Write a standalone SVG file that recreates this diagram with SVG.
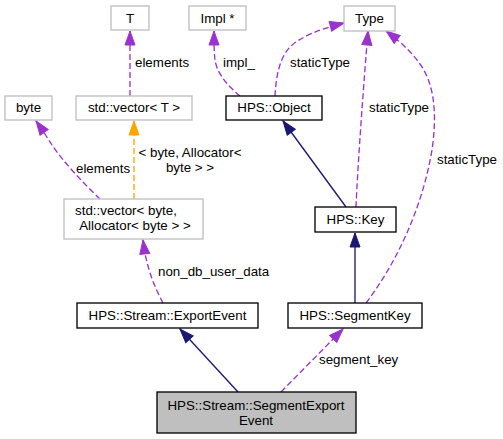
<svg xmlns="http://www.w3.org/2000/svg" width="503" height="439" viewBox="0 0 503 439">
<style>
text{font-family:"Liberation Sans",Arial,Helvetica,sans-serif;font-size:13.33px;fill:#000}
.c{text-anchor:middle}
.g{fill:#fff;stroke:#bfbfbf;stroke-width:1.33}
.b{fill:#fff;stroke:#000;stroke-width:1.33}
.m{fill:#bfbfbf;stroke:#000;stroke-width:1.33}
.p{fill:none;stroke:#9a32cd;stroke-width:1.33;stroke-dasharray:6,3;marker-end:url(#ap)}
.o{fill:none;stroke:#ffa500;stroke-width:1.33;stroke-dasharray:6,3;marker-end:url(#ao)}
.n{fill:none;stroke:#191970;stroke-width:1.33;marker-end:url(#an)}
</style>
<defs>
<marker id="ap" markerUnits="userSpaceOnUse" markerWidth="16" markerHeight="12" refX="14" refY="5" orient="auto" overflow="visible"><path d="M0,0 L14,5 L0,10 z" fill="#9a32cd" stroke="#9a32cd"/></marker>
<marker id="ao" markerUnits="userSpaceOnUse" markerWidth="16" markerHeight="12" refX="14" refY="5" orient="auto" overflow="visible"><path d="M0,0 L14,5 L0,10 z" fill="#ffa500" stroke="#ffa500"/></marker>
<marker id="an" markerUnits="userSpaceOnUse" markerWidth="16" markerHeight="12" refX="14" refY="5" orient="auto" overflow="visible"><path d="M0,0 L14,5 L0,10 z" fill="#191970" stroke="#191970"/></marker>
</defs>
<g id="edges">
<path class="p" d="M130,96 L130,31"/>
<text x="135" y="67">elements</text>
<path class="p" d="M240,96 C229,87 217,74 215,60 C214,52 214,42 214,31"/>
<text x="223" y="67">impl_</text>
<path class="p" d="M275,96 C276,80 278,60 290,47 C300,37 320,29 344,23"/>
<text x="290" y="67">staticType</text>
<path class="p" d="M356,207 C358,160 364,80 368,31"/>
<text x="369" y="112">staticType</text>
<path class="p" d="M366,303 C395,265 422,210 432,150 C437,115 435,85 420,64 C410,50 398,40 386,31"/>
<text x="437" y="164">staticType</text>
<path class="o" d="M134,199 L134,121"/>
<text class="c" x="190" y="157">&lt; byte, Allocator&lt;</text>
<text class="c" x="190" y="172">byte &gt; &gt;</text>
<path class="p" d="M100,199 C82,182 62,160 52,145 C47,137 41,128 36,121"/>
<text x="76" y="173">elements</text>
<path class="p" d="M163,303 C156,290 150,275 147,262 C145,255 144,248 143,240"/>
<text x="158" y="276">non_db_user_data</text>
<path class="n" d="M346,207 L283,121"/>
<path class="n" d="M355,303 L355,233"/>
<path class="n" d="M238,392 L180,329"/>
<path class="p" d="M281,392 L343,329"/>
<text x="319" y="364">segment_key</text>
</g>
<g id="T"><rect class="g" x="111" y="6" width="38" height="24"/><text class="c" x="130" y="23">T</text></g>
<g id="Impl"><rect class="g" x="189" y="6" width="57" height="24"/><text class="c" x="217.5" y="23">Impl *</text></g>
<g id="Type"><rect class="g" x="344" y="6" width="51" height="25"/><text class="c" x="369.5" y="23">Type</text></g>
<g id="byte"><rect class="g" x="5" y="96" width="47" height="24"/><text class="c" x="28.5" y="112">byte</text></g>
<g id="vectorT"><rect class="g" x="76" y="96" width="116" height="24"/><text class="c" x="134" y="112">std::vector&lt; T &gt;</text></g>
<g id="Object"><rect class="b" x="226" y="96" width="96" height="24"/><text class="c" x="274" y="112">HPS::Object</text></g>
<g id="vectorByte"><rect class="g" x="64" y="199" width="139" height="40"/><text class="c" x="126" y="215">std::vector&lt; byte,</text><text class="c" x="135" y="230">Allocator&lt; byte &gt; &gt;</text></g>
<g id="Key"><rect class="b" x="315" y="207" width="81" height="25"/><text class="c" x="355.5" y="224">HPS::Key</text></g>
<g id="ExportEvent"><rect class="b" x="77" y="303" width="181" height="25"/><text class="c" x="167.5" y="320">HPS::Stream::ExportEvent</text></g>
<g id="SegmentKey"><rect class="b" x="288" y="303" width="134" height="25"/><text class="c" x="355" y="320">HPS::SegmentKey</text></g>
<g id="SegmentExportEvent"><rect class="m" x="157" y="392" width="199" height="41"/><text class="c" x="256" y="410">HPS::Stream::SegmentExport</text><text class="c" x="256" y="425">Event</text></g>
</svg>
